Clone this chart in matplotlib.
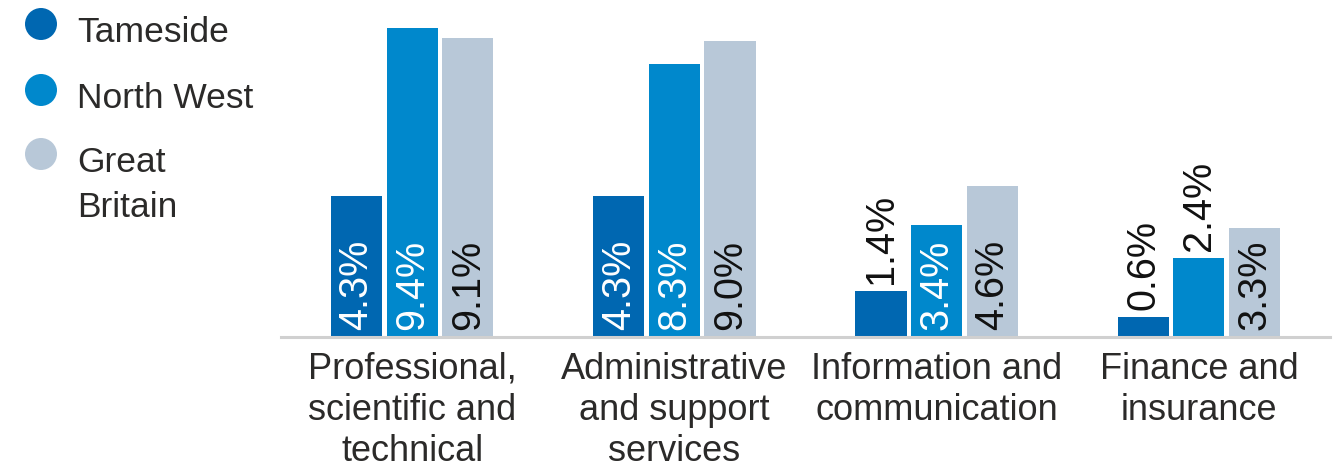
import numpy as np
import matplotlib.pyplot as plt
from matplotlib.patches import Circle

plt.rcParams['font.family'] = ['Liberation Sans', 'DejaVu Sans']

# ---- data ----
categories = ["Professional,\nscientific and\ntechnical",
              "Administrative\nand support\nservices",
              "Information and\ncommunication",
              "Finance and\ninsurance"]
series = ["Tameside", "North West", "Great\nBritain"]
tameside = [4.3, 4.3, 1.4, 0.6]
north_west = [9.4, 8.3, 3.4, 2.4]
great_britain = [9.1, 9.0, 4.6, 3.3]

colors = ["#0067b1", "#0088cc", "#b8c8d8"]
label_colors = ["white", "white", "#111111"]
text_color = "#2b2a29"

W, H = 1341, 464
fig = plt.figure(figsize=(W / 100, H / 100), dpi=100)

# axes placed in pixel terms: x 281..1330, baseline at y=338
ax = fig.add_axes([281 / W, (H - 338) / H, (1330 - 281) / W, 338 / H])

x = np.arange(len(categories))
bar_w = 0.195
step = 0.212
values = [tameside, north_west, great_britain]

for i, vals in enumerate(values):
    xs = x + (i - 1) * step
    ax.bar(xs, vals, width=bar_w, color=colors[i], zorder=2)
    for xv, v in zip(xs, vals):
        txt = f"{v:.1f}%"
        if v < 2.9:
            # too short to hold the label, put it above the bar
            ax.annotate(txt, (xv, v), xytext=(0, 6), textcoords="offset points",
                        rotation=90, ha="center", va="bottom",
                        fontsize=28.5, color="#111111")
        else:
            ax.annotate(txt, (xv, 0), xytext=(0, 5.5), textcoords="offset points",
                        rotation=90, ha="center", va="bottom",
                        fontsize=28.5, color=label_colors[i])

ax.set_xlim(-0.5, 3.5)
ax.set_ylim(0, 338 / 32.9)
ax.set_xticks(x)
ax.set_xticklabels(categories, fontsize=26, color=text_color, linespacing=1.22)
ax.tick_params(axis="x", length=0, pad=10)
ax.set_yticks([])
for s in ["top", "left", "right"]:
    ax.spines[s].set_visible(False)
ax.spines["bottom"].set_color("#d0d0d0")
ax.spines["bottom"].set_linewidth(2.2)

# legend drawn at the left edge
legend_y = [25, 91, 155]
for name, col, ly in zip(series, colors, legend_y):
    fig.patches.append(Circle((41, H - ly), 16, transform=None,
                              facecolor=col, edgecolor="none"))
    fig.text(77 / W, 1 - (ly - 9) / H, name, fontsize=25.5, color=text_color,
             ha="left", va="top", linespacing=1.45)

fig.savefig("out.png", dpi=100)
